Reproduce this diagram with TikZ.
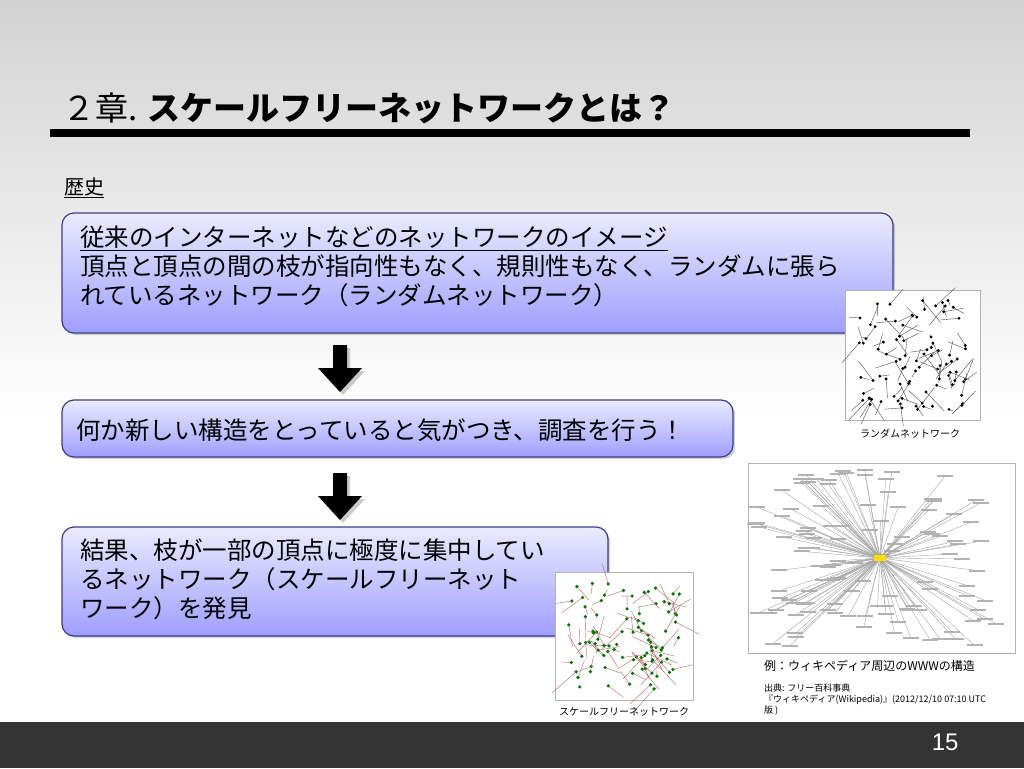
\documentclass[tikz,border=0pt]{standalone}
\usepackage{fontspec}
\newfontfamily\jp{Noto Sans CJK JP}
\newfontfamily\sanf{Liberation Sans}
\usetikzlibrary{shadows}
\definecolor{boxedge}{HTML}{3C3C8C}
\tikzset{
 pbox/.style={draw=boxedge,line width=1.2pt,rounded corners=12pt,top color=blue!8,bottom color=blue!38!white,drop shadow={opacity=0.35}},
 btxt/.style={font=\jp\fontsize{24.5}{29}\selectfont,anchor=north west,align=left,inner sep=0pt},
 darr/.style={fill=black,drop shadow={opacity=0.4,shadow xshift=3pt,shadow yshift=-3pt}},
 capt/.style={font=\jp\fontsize{10}{12}\selectfont,inner sep=0pt},
 pic/.style={draw=gray!60,fill=white,line width=0.8pt}
}
\begin{document}
\begin{tikzpicture}[x=1pt,y=-1pt]
\useasboundingbox (0,0) rectangle (1024,768);
\shade[top color=gray!35,bottom color=white] (0,0) rectangle (1024,420);
\fill[white] (0,420) rectangle (1024,722);
\fill[black!80] (0,722) rectangle (1024,768);
\node[font=\sanf\fontsize{24}{24}\selectfont,text=white,anchor=east] (pg) at (962,742) {15};
% title
\node[font=\jp\fontsize{33}{36}\selectfont,anchor=west,inner sep=0pt] (title) at (62,108) {２章. \textbf{スケールフリーネットワークとは？}};
\fill (50,129) rectangle (970,137);
\node[font=\jp\fontsize{20}{22}\selectfont,anchor=west,inner sep=0pt] (hist) at (64,188) {\underline{歴史}};
% boxes
\path[pbox] (62,213) rectangle (893,333);
\node[btxt] (t1) at (80,226) {\underline{従来のインターネットなどのネットワークのイメージ}\\頂点と頂点の間の枝が指向性もなく、規則性もなく、ランダムに張ら\\れているネットワーク（ランダムネットワーク）};
\path[pbox] (62,400) rectangle (733,457);
\node[btxt,anchor=west] (t2) at (76,430) {何か新しい構造をとっていると気がつき、調査を行う！};
\path[pbox] (62,527) rectangle (608,636);
\node[btxt] (t3) at (80,539) {結果、枝が一部の頂点に極度に集中してい\\るネットワーク（スケールフリーネット\\ワーク）を発見};
\path[darr] (333,345) -- (347,345) -- (347,368) -- (362,368) -- (340,392) -- (318,368) -- (333,368) -- cycle;
\path[darr] (333,473) -- (347,473) -- (347,496) -- (362,496) -- (340,520) -- (318,496) -- (333,496) -- cycle;
% random network
\path[pic] (845,290) rectangle (980,420);
\pgfmathsetseed{7}
\begin{scope}[shift={(912,355)}]
\foreach \i in {1,...,90}{
 \pgfmathsetmacro\ax{rand*55}\pgfmathsetmacro\ay{rand*55}
 \pgfmathsetmacro\bx{\ax+rand*22}\pgfmathsetmacro\by{\ay+rand*22}
 \draw[black!70,line width=0.4pt] (\ax,\ay) -- (\bx,\by);
 \fill (\ax,\ay) circle (1.6);}
\end{scope}
\node[capt] (c1) at (910,434) {ランダムネットワーク};
% scale-free
\path[pic] (555,572) rectangle (693,700);
\begin{scope}[shift={(624,636)}]
\foreach \i in {1,...,90}{
 \pgfmathsetmacro\ax{rand*58}\pgfmathsetmacro\ay{rand*55}
 \pgfmathsetmacro\bx{\ax+rand*25}\pgfmathsetmacro\by{\ay+rand*25}
 \draw[red!50!black!60,line width=0.4pt] (\ax,\ay) -- (\bx,\by);
 \fill[green!45!black] (\ax,\ay) circle (1.8);}
\end{scope}
\node[capt] (c2) at (624,712) {スケールフリーネットワーク};
% www
\path[pic] (748,463) rectangle (1015,653);
\begin{scope}[shift={(880,558)}]
\foreach \i in {1,...,120}{
 \pgfmathsetmacro\ax{rand*125}\pgfmathsetmacro\ay{rand*88}
 \draw[gray!70,line width=0.4pt] (\ax,\ay) -- (0,0);
 \fill[gray!60] (\ax-8,\ay-1) rectangle (\ax+8,\ay+1);}
\fill[yellow!80!orange] (-6,-3) rectangle (6,3);
\end{scope}
\node[capt,font=\jp\fontsize{12}{14}\selectfont,anchor=west] (c3) at (764,666) {例：ウィキペディア周辺のWWWの構造};
\node[capt,font=\jp\fontsize{9}{11}\selectfont,anchor=north west,align=left] (c4) at (764,684) {出典: フリー百科事典\\『ウィキペディア(Wikipedia)』(2012/12/10 07:10 UTC\\版 )};
\end{tikzpicture}
\end{document}
